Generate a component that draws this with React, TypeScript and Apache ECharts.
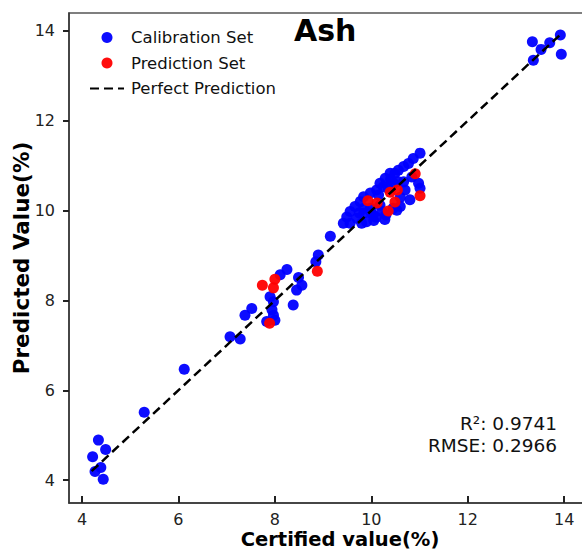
import React, { useEffect, useRef } from "react";
import * as echarts from "echarts";

const calX = [
  6.12, 5.29, 4.34, 4.49, 4.22, 4.39, 4.27, 4.44,
  13.34, 13.52, 13.7, 13.92, 13.36, 13.94,
  7.07, 7.28, 7.38, 7.52, 7.83, 8.0, 7.97, 7.94, 7.9, 7.97, 8.38, 8.45, 8.56, 8.49, 8.11, 8.25, 8.85, 8.9, 9.15,
  11.01, 10.87, 10.77, 10.67, 10.56, 10.49, 10.39, 10.29, 10.18, 10.25, 10.11, 9.98, 9.84, 9.77, 9.66, 9.56, 9.49,
  9.42, 9.56, 9.7, 9.84, 9.98, 10.18, 10.04, 10.22, 10.53, 10.6, 10.7, 10.8, 10.98, 11.01, 10.67, 10.84, 10.46, 10.35,
  10.28, 10.05, 9.8, 9.9, 10.1, 10.3, 10.45, 10.0, 9.75, 10.6, 10.55, 10.4, 9.85, 10.15,
];
const calY = [
  6.47, 5.51, 4.89, 4.68, 4.52, 4.28, 4.19, 4.02,
  13.76, 13.59, 13.74, 13.91, 13.35, 13.48,
  7.19, 7.14, 7.67, 7.82, 7.53, 7.56, 7.67, 7.79, 8.08, 7.97, 7.9, 8.23, 8.34, 8.51, 8.57, 8.69, 8.86, 9.01, 9.43,
  11.28, 11.16, 11.05, 10.98, 10.9, 10.83, 10.83, 10.72, 10.61, 10.53, 10.46, 10.39, 10.31, 10.2, 10.09, 9.98, 9.86,
  9.72, 9.72, 9.83, 9.94, 10.05, 10.12, 9.9, 9.98, 10.01, 10.09, 10.46, 10.24, 10.61, 10.5, 10.64, 10.75, 10.61, 10.5,
  9.8, 9.78, 9.72, 9.75, 9.85, 9.9, 10.05, 9.95, 9.95, 10.3, 10.65, 10.7, 10.05, 10.35,
];
const predX = [7.74, 8.0, 7.97, 7.89, 8.88, 9.93, 10.12, 10.39, 10.54, 10.49, 10.35, 10.91, 11.01];
const predY = [8.34, 8.47, 8.28, 7.49, 8.65, 10.22, 10.17, 10.41, 10.46, 10.19, 9.99, 10.82, 10.33];
const perfectLine = [4.2, 13.95];
const tickValues = [4, 6, 8, 10, 12, 14];
const statsText = ["R²: 0.9741", "RMSE: 0.2966"];

const FONT = "DejaVu Sans";

export default function App() {
  const ref = useRef<HTMLDivElement>(null);
  useEffect(() => {
    if (!ref.current) return;
    const chart = echarts.init(ref.current, null, { renderer: "svg" });
    const axisLine = { show: true, onZero: false, lineStyle: { color: "#333", width: 1.5 } };
    const statStyle = (text: string) => ({
      text,
      align: "right",
      verticalAlign: "middle",
      font: `18.5px "${FONT}"`,
      fill: "#111",
    });
    chart.setOption({
      animation: false,
      backgroundColor: "#fff",
      title: {
        text: "Ash",
        left: 289,
        top: 10,
        textStyle: { fontFamily: FONT, fontSize: 30, fontWeight: "bold", color: "#000" },
      },
      legend: {
        orient: "vertical",
        left: 84,
        top: 24,
        itemWidth: 34,
        itemHeight: 11,
        itemGap: 8.5,
        textStyle: { fontFamily: FONT, fontSize: 16.5, color: "#111", padding: [0, 0, 0, 2] },
        data: [
          { name: "Calibration Set", icon: "circle" },
          { name: "Prediction Set", icon: "circle" },
          { name: "Perfect Prediction", itemStyle: { opacity: 0 } },
        ],
      },
      grid: {
        left: 69,
        top: 13,
        width: 514,
        height: 490,
        show: true,
        borderColor: "#555",
        borderWidth: 1.5,
        outerBoundsMode: "none",
        containLabel: false,
      },
      xAxis: {
        type: "value",
        min: 3.73,
        max: 14.39,
        name: "Certified value(%)",
        nameLocation: "middle",
        nameGap: 26,
        nameMoveOverlap: false,
        nameTextStyle: { fontFamily: FONT, fontSize: 19.5, fontWeight: "bold", color: "#000", padding: [0, 0, 0, 28], lineHeight: 20 },
        axisLine,
        axisTick: { show: true, inside: true, length: 7, customValues: tickValues, lineStyle: { color: "#222", width: 2 } },
        axisLabel: { customValues: tickValues, fontFamily: FONT, fontSize: 16, color: "#222", margin: 8 },
        splitLine: { show: false },
      },
      yAxis: {
        type: "value",
        min: 3.49,
        max: 14.4,
        name: "Predicted Value(%)",
        nameLocation: "middle",
        nameGap: 37,
        nameMoveOverlap: false,
        nameTextStyle: { fontFamily: FONT, fontSize: 21.5, fontWeight: "bold", color: "#000", lineHeight: 22 },
        axisLine,
        axisTick: { show: true, inside: false, length: 6, customValues: tickValues, lineStyle: { color: "#222", width: 2 } },
        axisLabel: { customValues: tickValues, fontFamily: FONT, fontSize: 16, color: "#222", margin: 14 },
        splitLine: { show: false },
      },
      graphic: [
        { type: "text", x: 557, y: 423, style: statStyle(statsText[0]) },
        { type: "text", x: 557, y: 445, style: statStyle(statsText[1]) },
      ],
      series: [
        {
          name: "Perfect Prediction",
          type: "line",
          data: perfectLine.map((v) => [v, v]),
          showSymbol: false,
          symbol: "none",
          lineStyle: { color: "#000", width: 2.5, type: [9, 5] },
          itemStyle: { color: "#000" },
          z: 3,
        },
        {
          name: "Calibration Set",
          type: "scatter",
          data: calX.map((x, i) => [x, calY[i]]),
          symbolSize: 11,
          itemStyle: { color: "#0000ff", opacity: 0.95 },
          z: 2,
        },
        {
          name: "Prediction Set",
          type: "scatter",
          data: predX.map((x, i) => [x, predY[i]]),
          symbolSize: 11,
          itemStyle: { color: "#ff0000", opacity: 0.95 },
          z: 2,
        },
      ],
    });
    return () => chart.dispose();
  }, []);
  return <div ref={ref} style={{ width: 582, height: 550, position: "absolute", left: 0, top: 0 }} />;
}
